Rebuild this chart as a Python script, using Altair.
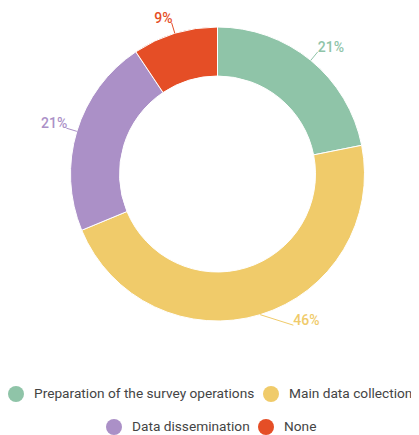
import altair as alt
import pandas as pd

categories = ["Preparation of the survey operations", "Main data collection", "Data dissemination", "None"]
counts = [7, 15, 7, 3]
labels = ["21%", "46%", "21%", "9%"]
colors = ["#8fc4a8", "#f0cb6a", "#ab90c7", "#e54e26"]

df = pd.DataFrame({"category": categories, "count": counts, "label": labels, "order": list(range(len(categories)))})

CX, CY, R_OUT, R_IN, R_LAB = 209.5, 166, 147, 98, 158
FONT = "Roboto"

base = alt.Chart(df).transform_window(
    cum="sum(count)", sort=[alt.SortField("order")], frame=[None, 0]
).transform_joinaggregate(
    total="sum(count)"
).transform_calculate(
    a0="(datum.cum - datum.count) / datum.total * 2 * PI",
    a1="datum.cum / datum.total * 2 * PI",
).transform_calculate(
    mid="(datum.a0 + datum.a1) / 2"
).transform_calculate(
    px=f"{CX} + {R_OUT} * sin(datum.mid)",
    py=f"{CY} - {R_OUT} * cos(datum.mid)",
    shift="datum.mid > PI / 2 && datum.mid < PI ? 1 : 0",
    right="sin(datum.mid) >= 0 ? 1 : 0",
).transform_calculate(
    lx=f"{CX} + {R_LAB} * sin(datum.mid) + datum.shift * 30",
    ly=f"{CY} - {R_LAB} * cos(datum.mid)",
)

full_scale = alt.Scale(domain=categories, range=colors)


def arcs(cats, lx, ly):
    idx = [categories.index(c) for c in cats]
    return base.transform_filter(
        alt.FieldOneOfPredicate(field="category", oneOf=cats)
    ).mark_arc(innerRadius=R_IN, outerRadius=R_OUT, stroke="white", strokeWidth=1).encode(
        theta=alt.Theta("a0:Q", scale=None, stack=None),
        theta2="a1:Q",
        x=alt.value(CX),
        y=alt.value(CY),
        color=alt.Color(
            "category:N",
            scale=alt.Scale(domain=cats, range=[colors[i] for i in idx]),
            legend=alt.Legend(
                orient="none", legendX=lx, legendY=ly, direction="horizontal", title=None,
                symbolType="circle", symbolSize=256, symbolStrokeWidth=0, symbolOpacity=1,
                labelFont=FONT, labelFontSize=13.7, labelColor="#444444", labelOffset=10,
                columnPadding=8, labelLimit=400, padding=0,
            ),
        ),
    )


rules = base.mark_rule(strokeWidth=1).encode(
    x=alt.X("px:Q", scale=None),
    y=alt.Y("py:Q", scale=None),
    x2="lx:Q",
    y2="ly:Q",
    color=alt.Color("category:N", scale=full_scale, legend=None),
)


def texts(side, align, dx):
    return base.transform_filter(f"datum.right == {side}").mark_text(
        align=align, baseline="alphabetic", dx=dx, font=FONT, fontSize=14, fontWeight=500
    ).encode(
        x=alt.X("lx:Q", scale=None),
        y=alt.Y("ly:Q", scale=None),
        text="label:N",
        color=alt.Color("category:N", scale=full_scale, legend=None),
    )


chart = alt.layer(
    arcs(categories[:2], 0, 378),
    arcs(categories[2:], 98, 411),
    rules,
    texts(1, "left", 0),
    texts(0, "right", 1),
).resolve_scale(color="independent").properties(
    width=403, height=427, padding=0, autosize=alt.AutoSizeParams(type="none")
).configure_view(stroke=None)

chart.save("out.html", embed_options={"renderer": "svg", "actions": False})
